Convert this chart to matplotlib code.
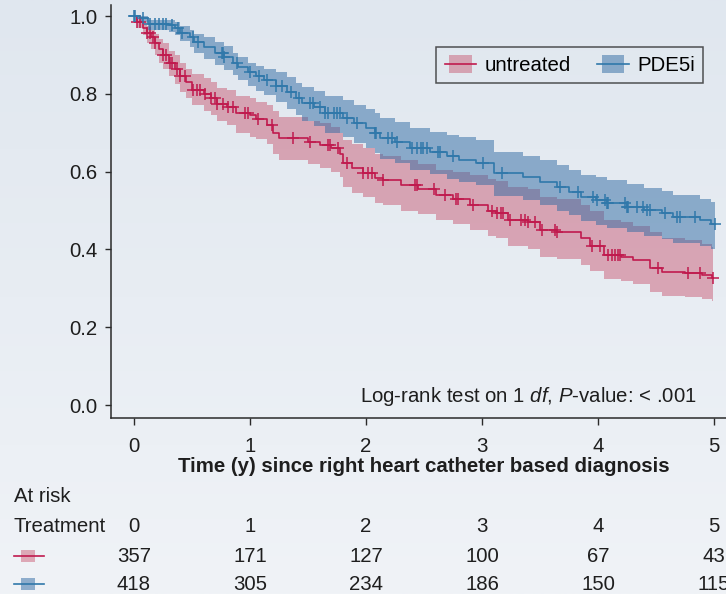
import numpy as np
import matplotlib
matplotlib.use("Agg")
import matplotlib.pyplot as plt
from matplotlib import transforms
from matplotlib.colors import LinearSegmentedColormap
from matplotlib.legend_handler import HandlerBase
from matplotlib.patches import Rectangle
from matplotlib.lines import Line2D

# ============================================================
# Data
# ============================================================

# untreated: step times, survival, 95% CI
red_t = [0.00, 0.03, 0.08, 0.11, 0.15, 0.18, 0.22, 0.25, 0.30, 0.35, 0.40, 0.45,
         0.50, 0.60, 0.66, 0.72, 0.80, 0.88, 1.00, 1.05, 1.15, 1.20, 1.25, 1.50,
         1.60, 1.70, 1.78, 1.80, 1.88, 1.97, 2.08, 2.15, 2.30, 2.45, 2.60, 2.75,
         2.90, 3.05, 3.12, 3.22, 3.40, 3.50, 3.65, 3.85, 3.93, 4.05, 4.20, 4.30,
         4.45, 4.55, 4.75, 4.90, 4.98]
red_s = [1.000, 0.985, 0.970, 0.956, 0.945, 0.930, 0.915, 0.900, 0.880, 0.865, 0.845, 0.830,
         0.810, 0.800, 0.790, 0.775, 0.765, 0.750, 0.745, 0.735, 0.720, 0.700, 0.686, 0.676,
         0.668, 0.660, 0.645, 0.622, 0.609, 0.596, 0.584, 0.578, 0.566, 0.555, 0.540, 0.530,
         0.514, 0.500, 0.494, 0.476, 0.470, 0.450, 0.445, 0.430, 0.410, 0.386, 0.380, 0.373,
         0.352, 0.342, 0.339, 0.334, 0.326]
red_lo = [1.000, 0.970, 0.950, 0.930, 0.915, 0.900, 0.880, 0.865, 0.845, 0.825, 0.805, 0.790,
          0.770, 0.755, 0.745, 0.730, 0.720, 0.700, 0.690, 0.685, 0.670, 0.645, 0.630, 0.620,
          0.610, 0.600, 0.585, 0.560, 0.545, 0.535, 0.520, 0.515, 0.500, 0.490, 0.475, 0.465,
          0.450, 0.435, 0.430, 0.410, 0.400, 0.380, 0.375, 0.360, 0.345, 0.325, 0.318, 0.310,
          0.290, 0.280, 0.277, 0.272, 0.268]
red_hi = [1.000, 0.995, 0.985, 0.975, 0.965, 0.955, 0.940, 0.930, 0.910, 0.900, 0.880, 0.865,
          0.850, 0.840, 0.830, 0.815, 0.810, 0.795, 0.790, 0.780, 0.770, 0.755, 0.740, 0.730,
          0.725, 0.715, 0.700, 0.680, 0.670, 0.660, 0.645, 0.640, 0.630, 0.620, 0.605, 0.600,
          0.590, 0.580, 0.575, 0.560, 0.555, 0.535, 0.530, 0.515, 0.500, 0.475, 0.470, 0.460,
          0.445, 0.430, 0.425, 0.415, 0.405]
red_cens = [0.03, 0.05, 0.11, 0.14, 0.16, 0.18, 0.25, 0.28, 0.31, 0.33, 0.37, 0.40,
            0.44, 0.51, 0.54, 0.57, 0.61, 0.66, 0.70, 0.72, 0.77, 0.81, 0.85, 0.96,
            0.98, 1.07, 1.19, 1.37, 1.52, 1.67, 1.69, 1.76, 1.84, 1.97, 2.02, 2.05,
            2.15, 2.42, 2.44, 2.59, 2.68, 2.78, 2.79, 2.92, 3.09, 3.13, 3.16, 3.18,
            3.24, 3.34, 3.37, 3.40, 3.46, 3.52, 3.63, 3.65, 3.95, 4.02, 4.09, 4.12,
            4.15, 4.17, 4.19, 4.52, 4.78, 4.88, 4.99]

# PDE5i
blue_t = [0.00, 0.05, 0.12, 0.30, 0.35, 0.40, 0.48, 0.52, 0.60, 0.70, 0.78, 0.85,
          0.90, 0.98, 1.05, 1.12, 1.22, 1.32, 1.40, 1.45, 1.55, 1.65, 1.80, 1.90,
          2.00, 2.08, 2.12, 2.25, 2.38, 2.55, 2.70, 2.80, 2.95, 3.10, 3.35, 3.50,
          3.65, 3.75, 3.85, 3.98, 4.08, 4.25, 4.40, 4.55, 4.65, 4.88, 4.97]
blue_s = [1.000, 0.995, 0.980, 0.977, 0.969, 0.956, 0.945, 0.933, 0.920, 0.905, 0.895, 0.880,
          0.869, 0.855, 0.845, 0.835, 0.820, 0.805, 0.790, 0.776, 0.766, 0.750, 0.738, 0.725,
          0.712, 0.700, 0.686, 0.676, 0.660, 0.650, 0.640, 0.630, 0.622, 0.596, 0.585, 0.573,
          0.560, 0.548, 0.535, 0.527, 0.519, 0.509, 0.501, 0.494, 0.483, 0.476, 0.465]
blue_lo = [1.000, 0.985, 0.965, 0.960, 0.950, 0.935, 0.920, 0.905, 0.890, 0.875, 0.862, 0.848,
           0.835, 0.820, 0.808, 0.796, 0.780, 0.762, 0.746, 0.730, 0.718, 0.700, 0.688, 0.674,
           0.660, 0.648, 0.633, 0.622, 0.604, 0.593, 0.582, 0.573, 0.565, 0.538, 0.526, 0.513,
           0.500, 0.488, 0.474, 0.464, 0.455, 0.444, 0.435, 0.428, 0.416, 0.408, 0.400]
blue_hi = [1.000, 1.000, 0.990, 0.990, 0.985, 0.975, 0.965, 0.955, 0.945, 0.932, 0.922, 0.905,
           0.895, 0.878, 0.872, 0.865, 0.855, 0.842, 0.828, 0.818, 0.808, 0.795, 0.785, 0.772,
           0.760, 0.750, 0.738, 0.728, 0.712, 0.703, 0.695, 0.688, 0.680, 0.650, 0.640, 0.630,
           0.618, 0.605, 0.592, 0.585, 0.578, 0.568, 0.558, 0.550, 0.540, 0.530, 0.522]
blue_cens = [0.00, 0.01, 0.08, 0.14, 0.18, 0.22, 0.25, 0.28, 0.33, 0.38, 0.41, 0.51,
             0.55, 0.76, 0.77, 0.78, 0.89, 1.00, 1.08, 1.15, 1.22, 1.28, 1.35, 1.42,
             1.52, 1.54, 1.60, 1.65, 1.67, 1.72, 1.75, 1.78, 1.84, 1.92, 2.08, 2.09,
             2.19, 2.22, 2.27, 2.40, 2.44, 2.47, 2.49, 2.53, 2.62, 2.64, 2.75, 3.01,
             3.17, 3.67, 3.83, 3.96, 3.99, 4.06, 4.08, 4.09, 4.23, 4.25, 4.26, 4.34,
             4.39, 4.42, 4.45, 4.58, 4.68, 4.71, 4.84, 5.01]

risk_times = [0, 1, 2, 3, 4, 5]
risk_untreated = [357, 171, 127, 100, 67, 43]
risk_pde5i = [418, 305, 234, 186, 150, 115]

group_names = ["untreated", "PDE5i"]

# ============================================================
# Style
# ============================================================

RED = "#c01a4e"
BLUE = "#3078aa"
RED_BAND = "#c0304f"
BLUE_BAND = "#2f6aa3"
RED_ALPHA = 0.38
BLUE_ALPHA = 0.5
TXT = "#1e1e1e"
FS = 14.7

plt.rcParams["font.family"] = ["Liberation Sans", "DejaVu Sans"]
plt.rcParams["mathtext.fontset"] = "custom"
plt.rcParams["mathtext.rm"] = "Liberation Sans"
plt.rcParams["mathtext.it"] = "Liberation Sans:italic"

fig = plt.figure(figsize=(7.26, 5.94), dpi=100)

# soft blue-grey gradient background
bg = fig.add_axes([0, 0, 1, 1], zorder=-10)
grad = np.linspace(0, 1, 256).reshape(-1, 1)
cmap = LinearSegmentedColormap.from_list("bg", ["#e0e7ef", "#f0f3f7"])
bg.imshow(grad, aspect="auto", cmap=cmap, extent=[0, 1, 0, 1], origin="upper")
bg.axis("off")

W, H = 726.0, 594.0
ax = fig.add_axes([111 / W, 1 - 418 / H, 629 / W, 413 / H])
ax.set_facecolor("none")
ax.set_xlim(-0.198, 5.224)
ax.set_ylim(-0.0334, 1.0283)


def km_arrays(t, s, lo, hi, cens):
    t_end = max(cens[-1], t[-1])
    tt = np.append(t, t_end)
    return tt, np.append(s, s[-1]), np.append(lo, lo[-1]), np.append(hi, hi[-1])


groups = [
    (red_t, red_s, red_lo, red_hi, red_cens, RED, RED_BAND, RED_ALPHA),
    (blue_t, blue_s, blue_lo, blue_hi, blue_cens, BLUE, BLUE_BAND, BLUE_ALPHA),
]

for t, s, lo, hi, cens, lc, bc, ba in groups:
    tt, ss, ll, hh = km_arrays(t, s, lo, hi, cens)
    ax.fill_between(tt, ll, hh, step="post", color=bc, alpha=ba, lw=0, zorder=1)

for t, s, lo, hi, cens, lc, bc, ba in groups:
    tt, ss, ll, hh = km_arrays(t, s, lo, hi, cens)
    ax.step(tt, ss, where="post", color=lc, lw=1.2, zorder=3)
    idx = np.searchsorted(np.array(t), np.array(cens), side="right") - 1
    ax.plot(cens, np.array(s)[idx], ls="none", marker="+", ms=8, mew=1.1,
            color=lc, zorder=4)

# axes cosmetics
for side in ["top", "right"]:
    ax.spines[side].set_visible(False)
for side in ["left", "bottom"]:
    ax.spines[side].set_color("#2a2a2a")
    ax.spines[side].set_linewidth(1.1)

ax.set_yticks([0.0, 0.2, 0.4, 0.6, 0.8, 1.0])
ax.set_yticklabels(["0.0", "0.2", "0.4", "0.6", "0.8", "1.0"])
ax.set_xticks(risk_times)
ax.tick_params(axis="y", length=4.5, width=1, pad=5, labelsize=FS, colors="#2a2a2a",
               labelcolor=TXT)
ax.tick_params(axis="x", length=5, width=1, pad=8.5, labelsize=FS, colors="#2a2a2a",
               labelcolor=TXT)

ax.text(4.853, 0.021, "Log-rank test on 1 $df$, $P$-value: < .001", ha="right",
        va="center", fontsize=FS, color=TXT)


# legend: band square with the line running through it
class KMKey:
    def __init__(self, line_color, band_color, band_alpha):
        self.line_color = line_color
        self.band_color = band_color
        self.band_alpha = band_alpha


class KMHandler(HandlerBase):
    def create_artists(self, legend, orig, xd, yd, width, height, fontsize, trans):
        x0, y0 = -xd, -yd
        pw = width * 0.72
        rect = Rectangle((x0 + (width - pw) / 2, y0), pw, height,
                         facecolor=orig.band_color, alpha=orig.band_alpha,
                         edgecolor="none", transform=trans)
        line = Line2D([x0, x0 + width], [y0 + height / 2] * 2, color=orig.line_color,
                      lw=1.2, transform=trans)
        return [rect, line]


keys = [KMKey(RED, RED_BAND, RED_ALPHA), KMKey(BLUE, BLUE_BAND, BLUE_ALPHA)]
leg = ax.legend(keys, group_names, handler_map={KMKey: KMHandler()}, ncol=2,
                loc="upper right", bbox_to_anchor=(0.941, 0.898), borderaxespad=0,
                fontsize=FS, handlelength=1.55, handleheight=0.95, handletextpad=0.4,
                columnspacing=1.3, borderpad=0.4, fancybox=False, frameon=True)
leg.get_frame().set_edgecolor("#2a2a2a")
leg.get_frame().set_linewidth(1.1)
leg.get_frame().set_facecolor("none")

# x label and at-risk table, x in data units, y in figure units
tr = transforms.blended_transform_factory(ax.transData, fig.transFigure)
fig.text(2.5, 1 - 467 / H, "Time (y) since right heart catheter based diagnosis",
         transform=tr, ha="center", va="center", fontsize=FS, fontweight="bold", color=TXT)

fig.text(14 / W, 1 - 497 / H, "At risk", ha="left", va="center", fontsize=FS, color=TXT)
fig.text(14 / W, 1 - 526 / H, "Treatment", ha="left", va="center", fontsize=FS, color=TXT)

row_y = [1 - 556 / H, 1 - 584 / H]
for tx in risk_times:
    fig.text(tx, 1 - 526 / H, str(tx), transform=tr, ha="center", va="center",
             fontsize=FS, color=TXT)
for y, counts in zip(row_y, [risk_untreated, risk_pde5i]):
    for tx, n in zip(risk_times, counts):
        fig.text(tx, y, str(n), transform=tr, ha="center", va="center",
                 fontsize=FS, color=TXT)

# row keys in the table
for y, key in zip(row_y, keys):
    fig.add_artist(Rectangle((21 / W, y - 6 / H), 14 / W, 12 / H, transform=fig.transFigure,
                             facecolor=key.band_color, alpha=key.band_alpha, edgecolor="none"))
    fig.add_artist(Line2D([14 / W, 44 / W], [y, y], transform=fig.transFigure,
                          color=key.line_color, lw=1.2))

fig.savefig("out.png", dpi=100)
